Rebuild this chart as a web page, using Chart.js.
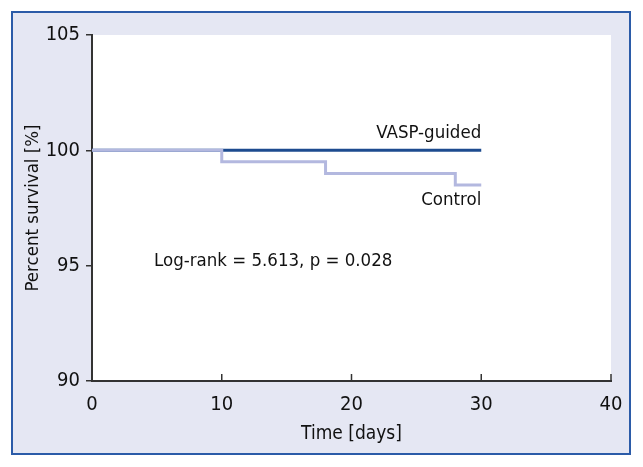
<!DOCTYPE html>
<html>
<head>
<meta charset="utf-8">
<script src="https://cdn.jsdelivr.net/npm/chart.js@4.4.1/dist/chart.umd.min.js"></script>
<style>
  html, body { margin: 0; padding: 0; background: #fff; }
  .frame {
    position: absolute; left: 11px; top: 11px; width: 616px; height: 440px;
    border: 2px solid #2b5ba8; background: #e5e7f3;
  }
  .chart-container { position: absolute; left: 0; top: 0; width: 643px; height: 467px; }
</style>
</head>
<body>
<div class="frame"></div>
<div class="chart-container"><canvas id="km"></canvas></div>
<script>
const FONT = "'Liberation Sans Narrow', 'DejaVu Sans Condensed', 'Roboto', sans-serif"

// survival curves (days, percent)
const controlDays = [0, 10, 18, 28, 30]
const controlSurvival = [100, 99.5, 99.0, 98.5, 98.5]
const vaspDays = [0, 30]
const vaspSurvival = [100, 100]

const xTicks = [0, 10, 20, 30, 40]
const yTicks = [90, 95, 100, 105]
const statText = 'Log-rank = 5.613, p = 0.028'

const toPoints = (xs, ys) => xs.map((x, i) => ({ x: x, y: ys[i] }))

// white plot area
const plotBg = {
  id: 'plotBg',
  beforeDraw (chart) {
    const { ctx, chartArea: a } = chart
    ctx.save()
    ctx.fillStyle = '#ffffff'
    ctx.fillRect(a.left, a.top, a.right - a.left, a.bottom - a.top)
    ctx.restore()
  }
}

// x ticks point into the plot
const innerTicks = {
  id: 'innerTicks',
  afterDraw (chart) {
    const { ctx, scales } = chart
    const x = scales.x
    ctx.save()
    ctx.strokeStyle = '#333'
    ctx.lineWidth = 1.5
    xTicks.forEach(v => {
      const px = x.getPixelForValue(v)
      ctx.beginPath()
      ctx.moveTo(px, x.top)
      ctx.lineTo(px, x.top - 7)
      ctx.stroke()
    })
    ctx.restore()
  }
}

const labels = {
  id: 'labels',
  afterDatasetsDraw (chart) {
    const { ctx, scales } = chart
    const x = scales.x
    const y = scales.y
    ctx.save()
    ctx.fillStyle = '#111'
    ctx.textBaseline = 'middle'
    ctx.font = '18.5px ' + FONT
    ctx.textAlign = 'right'
    ctx.fillText('VASP-guided', x.getPixelForValue(30), y.getPixelForValue(100.74))
    ctx.fillText('Control', x.getPixelForValue(30), y.getPixelForValue(97.83))
    ctx.textAlign = 'left'
    ctx.fillText(statText, x.getPixelForValue(4.78), y.getPixelForValue(95.2))
    ctx.restore()
  }
}

new Chart(document.getElementById('km'), {
  type: 'line',
  data: {
    datasets: [{
      label: 'Control',
      data: toPoints(controlDays, controlSurvival),
      borderColor: '#b3b8df',
      borderWidth: 3,
      stepped: 'before',
      pointRadius: 0,
      order: 0
    }, {
      label: 'VASP-guided',
      data: toPoints(vaspDays, vaspSurvival),
      borderColor: '#1d4b8f',
      borderWidth: 3,
      pointRadius: 0,
      order: 1
    }]
  },
  options: {
    responsive: true,
    maintainAspectRatio: false,
    animation: false,
    layout: { padding: { left: 0, top: 35, right: 32, bottom: 0 } },
    plugins: { legend: { display: false }, tooltip: { enabled: false } },
    scales: {
      x: {
        type: 'linear',
        min: 0,
        max: 40,
        afterBuildTicks (s) { s.ticks = xTicks.map(v => ({ value: v })) },
        afterFit (s) { s.height = 86 },
        grid: { display: false, drawTicks: false },
        border: { display: true, color: '#333', width: 2 },
        ticks: { color: '#111', font: { family: FONT, size: 20 }, padding: 12, maxRotation: 0 },
        title: { display: true, text: 'Time [days]', color: '#111', font: { family: FONT, size: 19 }, padding: { top: 0, bottom: 22 } }
      },
      y: {
        min: 90,
        max: 105,
        afterBuildTicks (s) { s.ticks = yTicks.map(v => ({ value: v })) },
        afterFit (s) { s.width = 92 },
        grid: { drawOnChartArea: false, tickLength: 6, color: '#333', lineWidth: 1.5 },
        border: { display: true, color: '#333', width: 2 },
        ticks: { color: '#111', font: { family: FONT, size: 20 }, padding: 6 },
        title: { display: true, text: 'Percent survival [%]', color: '#111', font: { family: FONT, size: 18.5 }, padding: { top: 22, bottom: 0 } }
      }
    }
  },
  plugins: [plotBg, innerTicks, labels]
})
</script>
</body>
</html>
